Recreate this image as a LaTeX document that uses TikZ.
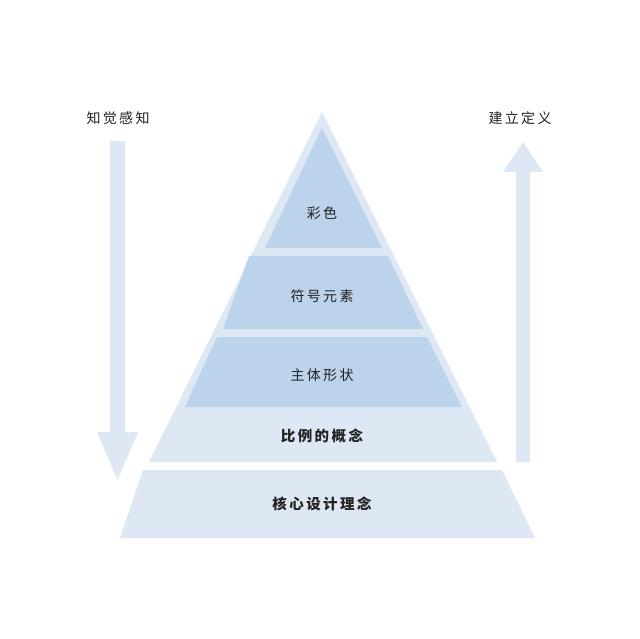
\documentclass[tikz,border=0pt]{standalone}
\usepackage{fontspec}
\newfontfamily\cjk{Noto Sans CJK SC}
\definecolor{outerc}{HTML}{DDE8F4}
\definecolor{innerc}{HTML}{BCD4EB}
\definecolor{txt}{HTML}{222222}
\begin{document}
\begin{tikzpicture}[x=1pt,y=-1pt,
  lbl/.style={font=\cjk\fontsize{14}{16}\selectfont, text=txt},
  blbl/.style={font=\cjk\bfseries\fontsize{14.5}{16}\selectfont, text=txt}]
\useasboundingbox[fill=white] (0,0) rectangle (640,639);
% outer layers
\fill[outerc] (143,470) -- (502,470) -- (535,538) -- (120,538) -- cycle;
\fill[outerc] (322,112) -- (497,462) -- (149,462) -- cycle;
% inner layers
\fill[innerc] (322,128) -- (382,248) -- (265,248) -- cycle;
\fill[innerc] (249,256) -- (388,256) -- (423,329) -- (223,329) -- cycle;
\fill[innerc] (217,337) -- (427,337) -- (462,407) -- (185,407) -- cycle;
% arrows
\fill[outerc] (110,141) -- (125,141) -- (125,432) -- (138,432) -- (117.5,480) -- (97,432) -- (110,432) -- cycle;
\fill[outerc] (516,462) -- (530,462) -- (530,172) -- (543,172) -- (523,142) -- (503,172) -- (516,172) -- cycle;
% labels
\node[lbl] (c1) at (322,213) {彩\,色};
\node[lbl] (c2) at (322,296) {符\,号\,元\,素};
\node[lbl] (c3) at (322,375) {主\,体\,形\,状};
\node[blbl] (c4) at (322,436) {比\,例\,的\,概\,念};
\node[blbl] (c5) at (322,504) {核\,心\,设\,计\,理\,念};
\node[lbl] (l1) at (118,118) {知\,觉\,感\,知};
\node[lbl] (l2) at (520,118) {建\,立\,定\,义};
\end{tikzpicture}
\end{document}
